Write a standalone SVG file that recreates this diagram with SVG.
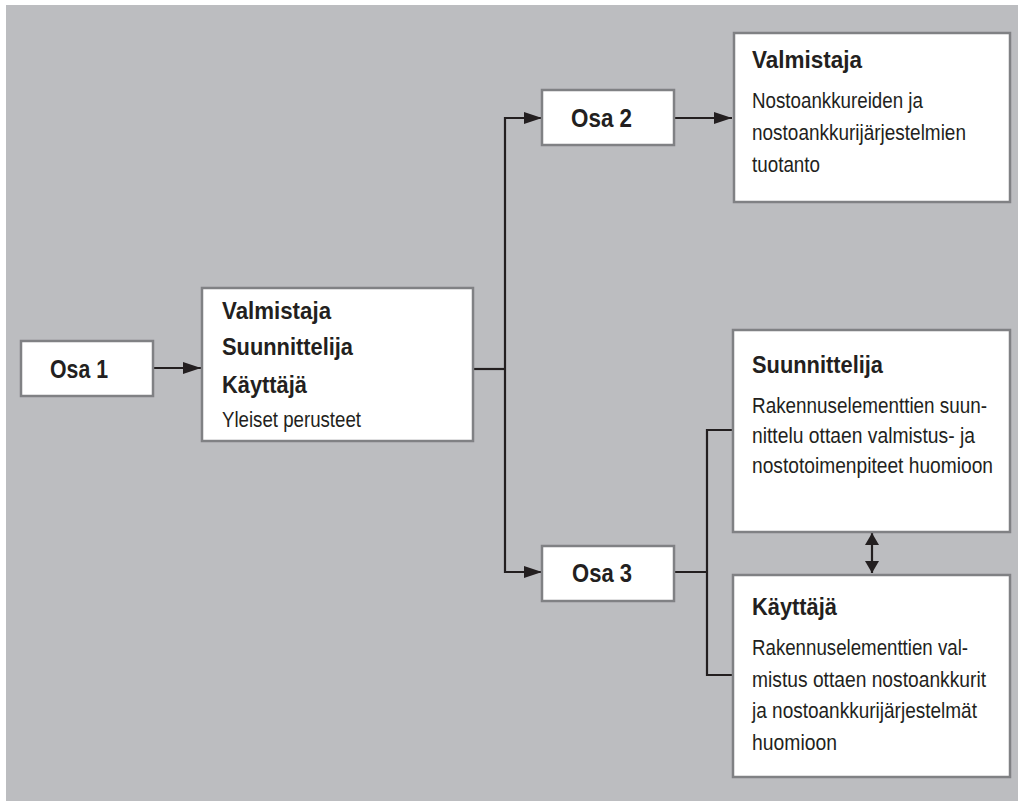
<svg xmlns="http://www.w3.org/2000/svg" width="1018" height="801" viewBox="0 0 1018 801">
<defs>
<style>
.box{fill:#ffffff;stroke:#808184;stroke-width:2.5}
.line{fill:none;stroke:#231f20;stroke-width:2.2}
.b{font-family:"Liberation Sans",Arial,sans-serif;font-weight:bold;fill:#231f20}
.r{font-family:"Liberation Sans",Arial,sans-serif;fill:#231f20}
.osa{font-size:26px}
.h{font-size:24.5px}
.t{font-size:22px}
</style>
<marker id="ah" markerWidth="18" markerHeight="12" refX="18" refY="6" orient="auto" markerUnits="userSpaceOnUse">
<path d="M0,0 L18,6 L0,12 Z" fill="#231f20"/>
</marker>
<marker id="ahs" markerWidth="12" markerHeight="14" refX="12" refY="7" orient="auto-start-reverse" markerUnits="userSpaceOnUse">
<path d="M0,0 L12,7 L0,14 Z" fill="#231f20"/>
</marker>
</defs>
<rect x="6" y="5" width="1012" height="796" fill="#bcbdc0"/>
<g id="connectors">
<line class="line" x1="153" y1="368" x2="201" y2="368" marker-end="url(#ah)"/>
<line class="line" x1="473" y1="369" x2="505" y2="369"/>
<path class="line" d="M542,118 L505,118 L505,572 L542,572" marker-end="url(#ah)"/>
<line class="line" x1="505" y1="118" x2="542" y2="118" marker-end="url(#ah)"/>
<line class="line" x1="674" y1="118" x2="732" y2="118" marker-end="url(#ah)"/>
<line class="line" x1="674" y1="572" x2="707" y2="572"/>
<path class="line" d="M733,430 L707,430 L707,675 L733,675"/>
<line class="line" x1="872" y1="533" x2="872" y2="573" marker-start="url(#ahs)" marker-end="url(#ahs)"/>
</g>
<g id="osa1">
<rect class="box" x="21" y="341" width="132" height="55"/>
<text class="b osa" transform="translate(50,378) scale(0.85,1)" textLength="68.2" lengthAdjust="spacingAndGlyphs">Osa 1</text>
</g>
<g id="main">
<rect class="box" x="202" y="288" width="271" height="153"/>
<text class="b h" transform="translate(222,319) scale(0.89,1)" textLength="122.5" lengthAdjust="spacingAndGlyphs">Valmistaja</text>
<text class="b h" transform="translate(222,355) scale(0.89,1)" textLength="147.2" lengthAdjust="spacingAndGlyphs">Suunnittelija</text>
<text class="b h" transform="translate(222,393) scale(0.89,1)" textLength="95.5" lengthAdjust="spacingAndGlyphs">Käyttäjä</text>
<text class="r t" transform="translate(222,427) scale(0.86,1)" textLength="161.6" lengthAdjust="spacingAndGlyphs">Yleiset perusteet</text>
</g>
<g id="osa2">
<rect class="box" x="542" y="90" width="132" height="55"/>
<text class="b osa" transform="translate(571,127) scale(0.85,1)" textLength="71.8" lengthAdjust="spacingAndGlyphs">Osa 2</text>
</g>
<g id="osa3">
<rect class="box" x="542" y="546" width="132" height="55"/>
<text class="b osa" transform="translate(572,582) scale(0.85,1)" textLength="70.6" lengthAdjust="spacingAndGlyphs">Osa 3</text>
</g>
<g id="valmistaja">
<rect class="box" x="734" y="33" width="276" height="169"/>
<text class="b h" transform="translate(752,68) scale(0.89,1)" textLength="123.6" lengthAdjust="spacingAndGlyphs">Valmistaja</text>
<text class="r t" transform="translate(752,108) scale(0.86,1)" textLength="198.8" lengthAdjust="spacingAndGlyphs">Nostoankkureiden ja</text>
<text class="r t" transform="translate(752,140) scale(0.86,1)" textLength="248.8" lengthAdjust="spacingAndGlyphs">nostoankkurijärjestelmien</text>
<text class="r t" transform="translate(752,172) scale(0.86,1)" textLength="79.1" lengthAdjust="spacingAndGlyphs">tuotanto</text>
</g>
<g id="suunnittelija">
<rect class="box" x="733" y="330" width="277" height="202"/>
<text class="b h" transform="translate(752,373) scale(0.89,1)" textLength="147.2" lengthAdjust="spacingAndGlyphs">Suunnittelija</text>
<text class="r t" transform="translate(752,413) scale(0.86,1)" textLength="273.3" lengthAdjust="spacingAndGlyphs">Rakennuselementtien suun-</text>
<text class="r t" transform="translate(752,443) scale(0.86,1)" textLength="259.3" lengthAdjust="spacingAndGlyphs">nittelu ottaen valmistus- ja</text>
<text class="r t" transform="translate(752,473) scale(0.86,1)" textLength="280.2" lengthAdjust="spacingAndGlyphs">nostotoimenpiteet huomioon</text>
</g>
<g id="kayttaja">
<rect class="box" x="733" y="575" width="277" height="202"/>
<text class="b h" transform="translate(752,615) scale(0.89,1)" textLength="95.5" lengthAdjust="spacingAndGlyphs">Käyttäjä</text>
<text class="r t" transform="translate(752,655) scale(0.86,1)" textLength="251.2" lengthAdjust="spacingAndGlyphs">Rakennuselementtien val-</text>
<text class="r t" transform="translate(752,687) scale(0.86,1)" textLength="272.1" lengthAdjust="spacingAndGlyphs">mistus ottaen nostoankkurit</text>
<text class="r t" transform="translate(752,718) scale(0.86,1)" textLength="261.6" lengthAdjust="spacingAndGlyphs">ja nostoankkurijärjestelmät</text>
<text class="r t" transform="translate(752,750) scale(0.86,1)" textLength="98.8" lengthAdjust="spacingAndGlyphs">huomioon</text>
</g>
</svg>
